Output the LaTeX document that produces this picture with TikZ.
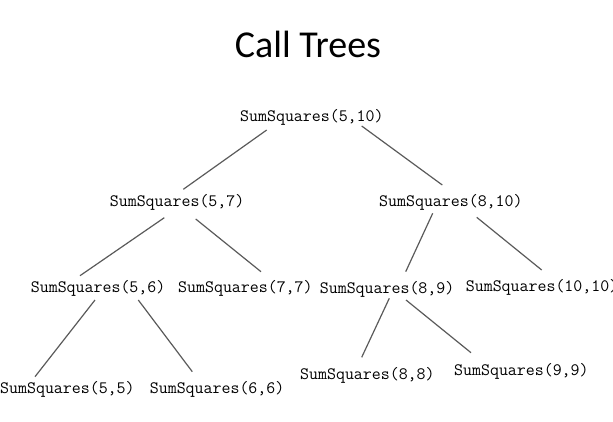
\documentclass[tikz,border=0pt]{standalone}
\usepackage{fontspec}
\newfontfamily\titlefont{Carlito}
\usetikzlibrary{calc}
\definecolor{edgegray}{HTML}{5A5A5A}
\tikzset{
  call/.style={font=\ttfamily\fontsize{17.4pt}{19pt}\selectfont, inner sep=0pt, anchor=base west},
  edge/.style={draw=edgegray, line width=1.2pt},
  titletext/.style={font=\titlefont\fontsize{38pt}{44pt}\selectfont, inner sep=0pt, anchor=base}
}
\begin{document}
\begin{tikzpicture}[x=1pt,y=-1pt]
\useasboundingbox (0,0) rectangle (613,421);
\node[titletext] (title) at (308,57.7) {Call Trees};
\node[call] (root) at (240,121.7) {SumSquares(5,10)};
\node[call] (n57) at (109.7,206) {SumSquares(5,7)};
\node[call] (n810) at (379,206) {SumSquares(8,10)};
\node[call] (n56) at (30.7,292.3) {SumSquares(5,6)};
\node[call] (n77) at (178,292.3) {SumSquares(7,7)};
\node[call] (n89) at (319.7,293) {SumSquares(8,9)};
\node[call] (n1010) at (465.7,291.5) {SumSquares(10,10)};
\node[call] (n55) at (0,393.3) {SumSquares(5,5)};
\node[call] (n66) at (149.7,393.3) {SumSquares(6,6)};
\node[call] (n88) at (300,379.3) {SumSquares(8,8)};
\node[call] (n99) at (454,375) {SumSquares(9,9)};
\draw[edge] ($(root.base west)+(26.7,8.3)$) -- ($(n57.base west)+(73.6,-16.7)$);
\draw[edge] ($(root.base west)+(121.7,4.3)$) -- ($(n810.base west)+(63.3,-21)$);
\draw[edge] ($(n57.base west)+(54.6,11.7)$) -- ($(n56.base west)+(49.3,-16.6)$);
\draw[edge] ($(n57.base west)+(86,13)$) -- ($(n77.base west)+(83,-20.6)$);
\draw[edge] ($(n810.base west)+(53.7,7.3)$) -- ($(n89.base west)+(86,-21.3)$);
\draw[edge] ($(n810.base west)+(97.7,11.3)$) -- ($(n1010.base west)+(76,-21.5)$);
\draw[edge] ($(n56.base west)+(64.3,7.7)$) -- ($(n55.base west)+(35,-16.6)$);
\draw[edge] ($(n56.base west)+(107.6,7.7)$) -- ($(n66.base west)+(42.6,-21.6)$);
\draw[edge] ($(n89.base west)+(69.6,5.3)$) -- ($(n88.base west)+(61.7,-22)$);
\draw[edge] ($(n89.base west)+(86.3,7)$) -- ($(n99.base west)+(17,-22.3)$);
\end{tikzpicture}
\end{document}
